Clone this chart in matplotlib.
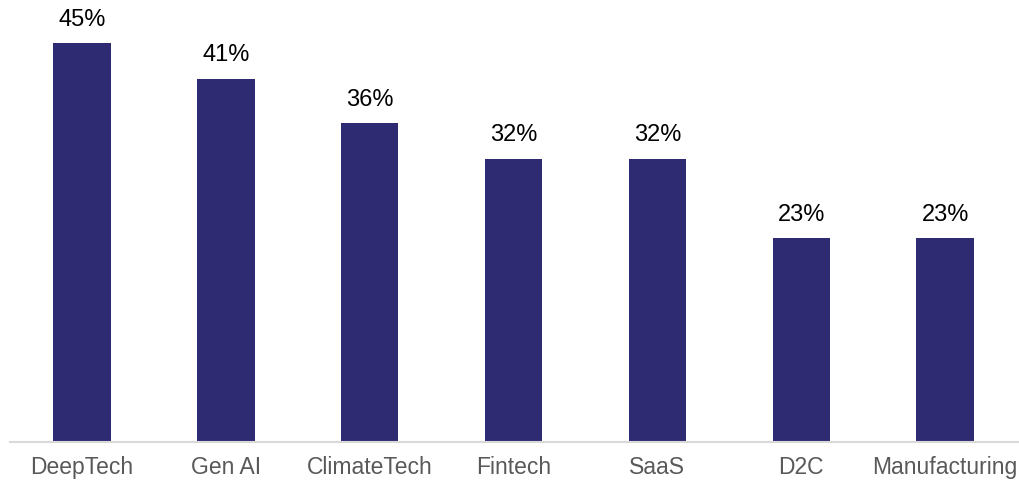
import matplotlib.pyplot as plt

categories = ['DeepTech', 'Gen AI', 'ClimateTech', 'Fintech', 'SaaS', 'D2C', 'Manufacturing']
shares = [45, 41, 36, 32, 32, 23, 23]

plt.rcParams['font.family'] = ['Liberation Sans', 'DejaVu Sans']

fig = plt.figure(figsize=(10.2, 4.84), dpi=100)
ax = fig.add_axes([10 / 1020, 42 / 484, 1010 / 1020, 442 / 484])

x = range(len(categories))
bars = ax.bar(x, shares, width=0.4, color='#2F2B73')

# value labels above each bar
for b, v in zip(bars, shares):
    ax.annotate(f'{v}%', (b.get_x() + b.get_width() / 2, v),
                xytext=(0, 9), textcoords='offset points',
                ha='center', va='bottom', fontsize=17, color='black')

ax.set_xlim(-0.5, 6.52)
ax.set_ylim(0, 49.9)
ax.set_xticks(list(x))
ax.set_xticklabels(categories, fontsize=16.5, color='#595959')
ax.tick_params(axis='x', length=0, pad=10)
ax.set_yticks([])
for s in ['top', 'right', 'left']:
    ax.spines[s].set_visible(False)
ax.spines['bottom'].set_color('#D9D9D9')
ax.spines['bottom'].set_linewidth(1.5)

fig.savefig('out.png', dpi=100)
